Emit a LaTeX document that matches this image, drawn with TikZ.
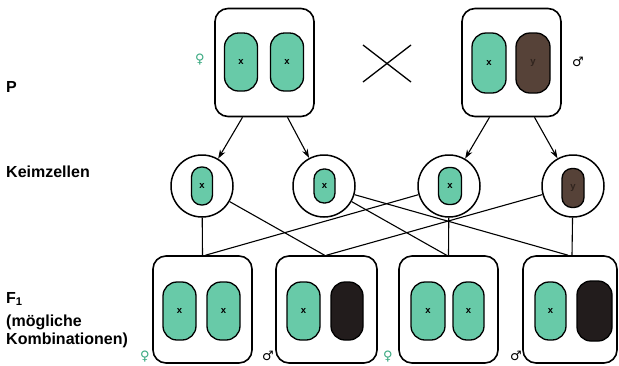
\documentclass[tikz,border=0pt]{standalone}
\usepackage{fontspec}
\setmainfont{Liberation Sans}
\newfontfamily\symfont{DejaVu Sans}
\usetikzlibrary{arrows.meta}
\definecolor{xgreen}{RGB}{104,202,168}
\definecolor{ybrown}{RGB}{86,66,56}
\definecolor{ylabel}{RGB}{48,36,30}
\definecolor{ydark}{RGB}{34,28,28}
\definecolor{femgreen}{RGB}{60,170,130}
\begin{document}
\begin{tikzpicture}[x=1pt,y=-1pt,
  cell/.style={draw, line width=1.6pt, rounded corners=13pt, minimum width=99pt,
    minimum height=108pt, inner sep=0pt},
  gamete/.style={draw, circle, line width=1.5pt, minimum size=62pt, inner sep=0pt},
  chrom/.style={draw, line width=1.3pt, rounded corners=14pt, inner sep=0pt,
    minimum width=33pt, minimum height=58pt,
    font=\bfseries\fontsize{9.5}{9.5}\selectfont},
  small/.style={rounded corners=10pt},
  xchrom/.style={chrom, fill=xgreen},
  ychrom/.style={chrom, fill=ybrown, text=ylabel},
  ydchrom/.style={chrom, fill=ydark},
  link/.style={line width=1.1pt},
  arr/.style={line width=1.1pt, -{Stealth[length=9pt,width=6pt]}},
  lbl/.style={anchor=base west, inner sep=0pt, font=\bfseries\fontsize{16}{18}\selectfont},
  fem/.style={text=femgreen, inner sep=0pt, font=\symfont\fontsize{13}{13}\selectfont},
  mal/.style={text=black, inner sep=0pt, font=\symfont\bfseries\fontsize{13}{13}\selectfont}]
\useasboundingbox (0,0) rectangle (619,365);

% row labels
\node[lbl] (lp) at (6,92) {P};
\node[lbl] (lk) at (6,177) {Keimzellen};
\node[lbl] (lf) at (6,303) {F\textsubscript{1}};
\node[lbl] (lm) at (6,326) {(mögliche};
\node[lbl] (lc) at (6,344) {Kombinationen)};

% parents
\node[cell] (pl) at (264.5,62.5) {};
\node[cell] (pr) at (511.5,62.5) {};
\node[xchrom] (pl1) at (241,62) {x};
\node[xchrom] (pl2) at (287,62) {x};
\node[xchrom, minimum width=34, minimum height=60] (pr1) at (489,63) {x};
\node[ychrom, minimum width=34, minimum height=60] (pr2) at (533,63) {y};
\node[fem] (sf) at (200,60) {♀};
\node[mal] (sm) at (578,62) {♂};

% crossing sign
\draw[line width=1.3pt] (363,45) -- (411,82) (363,82) -- (411,45);

% gametes
\node[gamete] (g1) at (202,186) {};
\node[gamete] (g2) at (324,186) {};
\node[gamete] (g3) at (449,186) {};
\node[gamete] (g4) at (573,186) {};
\node[xchrom, small, minimum width=21, minimum height=38] (gc1) at (202,186) {x};
\node[xchrom, small, minimum width=21, minimum height=34] (gc2) at (324.5,186) {x};
\node[xchrom, small, minimum width=23, minimum height=37] (gc3) at (450,186) {x};
\node[ychrom, small, minimum width=22, minimum height=39] (gc4) at (573,188) {y};

% meiosis arrows
\draw[arr] ([xshift=-22]pl.south) -- (g1);
\draw[arr] ([xshift=23]pl.south) -- (g2);
\draw[arr] ([xshift=-22]pr.south) -- (g3);
\draw[arr] ([xshift=23]pr.south) -- (g4);

% offspring
\node[cell, minimum height=107] (f1) at (202.5,309.5) {};
\node[cell, minimum height=107, minimum width=101] (f2) at (326.5,309.5) {};
\node[cell, minimum height=107] (f3) at (448.5,309.5) {};
\node[cell, minimum height=107, minimum width=94] (f4) at (570,309.5) {};
\node[xchrom] (f1a) at (179.5,311) {x};
\node[xchrom] (f1b) at (223.5,311) {x};
\node[xchrom] (f2a) at (303.5,311) {x};
\node[ydchrom, minimum width=32] (f2b) at (347,311) {};
\node[xchrom, minimum width=34] (f3a) at (428,311) {x};
\node[xchrom, minimum width=31] (f3b) at (468.5,311) {x};
\node[xchrom, minimum width=31] (f4a) at (550.5,311) {x};
\node[ydchrom, minimum width=35, minimum height=60] (f4b) at (594.5,311) {};
\node[fem] (s1) at (145,357) {♀};
\node[mal] (s2) at (268,356) {♂};
\node[fem] (s3) at (388,357) {♀};
\node[mal] (s4) at (516,356) {♂};

% fertilisation lines
\draw[link] (g1) -- (f1.north);
\draw[link] (g3) -- ([xshift=3]f1.north);
\draw[link] (g1) -- ([xshift=-2]f2.north);
\draw[link] (g4) -- (f2.north);
\draw[link] (g2) -- ([xshift=-2]f3.north);
\draw[link] (g3) -- (f3.north);
\draw[link] (g2) -- ([xshift=-2]f4.north);
\draw[link] (g4) -- ([xshift=2]f4.north);
\end{tikzpicture}
\end{document}
